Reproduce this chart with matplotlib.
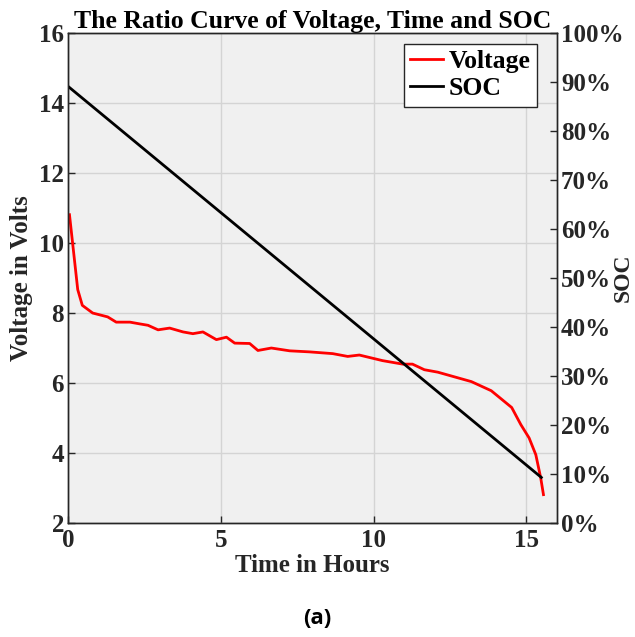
import matplotlib
matplotlib.use("Agg")
import matplotlib.pyplot as plt
import numpy as np
from matplotlib.ticker import FuncFormatter

# Voltage data (hours, volts)
time_v = [0.04, 0.31, 0.46, 0.8, 1.29, 1.57, 2.02, 2.34, 2.61, 2.94, 3.32, 3.76, 4.08,
          4.41, 4.85, 5.18, 5.45, 5.94, 6.21, 6.65, 7.25, 7.9, 8.66, 9.15, 9.53, 10.29,
          10.95, 11.27, 11.66, 12.1, 13.2, 13.85, 14.52, 14.82, 15.09, 15.31, 15.47, 15.56]
voltage = [10.81, 8.67, 8.22, 8.0, 7.89, 7.74, 7.74, 7.69, 7.65, 7.52, 7.57, 7.46, 7.41,
           7.46, 7.24, 7.31, 7.14, 7.13, 6.93, 7.0, 6.92, 6.89, 6.84, 6.76, 6.80, 6.64,
           6.54, 6.54, 6.38, 6.31, 6.04, 5.78, 5.30, 4.81, 4.43, 3.95, 3.29, 2.81]

# SOC data (hours, fraction)
time_soc = [0.0, 15.49]
soc = [0.891, 0.093]

x_ticks = [0, 5, 10, 15]
v_ticks = [2, 4, 6, 8, 10, 12, 14, 16]
soc_ticks = [i / 10 for i in range(11)]

font = "Liberation Serif"
axcol = "#262626"
fs = 18

fig = plt.figure(figsize=(6.35, 6.37), dpi=100)
ax = fig.add_axes([0.1075, 0.179, 0.7695, 0.769])
ax.set_facecolor("#f0f0f0")
ax2 = ax.twinx()

l1, = ax.plot(time_v, voltage, color="red", lw=2)
l2, = ax2.plot(time_soc, soc, color="black", lw=2)

ax.set_xlim(0, 16)
ax.set_ylim(2, 16)
ax2.set_ylim(0, 1)
ax.set_xticks(x_ticks)
ax.set_yticks(v_ticks)
ax2.set_yticks(soc_ticks)
ax2.yaxis.set_major_formatter(FuncFormatter(lambda v, p: f"{int(round(v*100))}%"))

ax.grid(True, color="#d4d4d4", lw=1)
ax.set_axisbelow(True)

for a in (ax, ax2):
    a.tick_params(direction="in", length=5, width=1, colors=axcol, labelsize=fs, pad=3)
    for lab in a.get_xticklabels() + a.get_yticklabels():
        lab.set_fontfamily(font)
        lab.set_fontweight("bold")
    for s in a.spines.values():
        s.set_color(axcol)
        s.set_linewidth(1)
ax.tick_params(axis="x", pad=4)

ax.set_xlabel("Time in Hours", fontfamily=font, fontweight="bold", fontsize=fs,
              color=axcol, labelpad=2)
ax.set_ylabel("Voltage in Volts", fontfamily=font, fontweight="bold", fontsize=fs,
              color=axcol, labelpad=4)
ax2.set_ylabel("SOC", fontfamily=font, fontweight="bold", fontsize=17, color=axcol,
               labelpad=-8)
ax.set_title("The Ratio Curve of Voltage, Time and SOC", fontfamily=font,
             fontweight="bold", fontsize=18.5, color="black", pad=2)

leg = ax2.legend([l1, l2], ["Voltage", "SOC"], loc="upper right",
                 bbox_to_anchor=(0.959, 0.978), borderaxespad=0,
                 prop={"family": font, "weight": "bold", "size": 18.5},
                 fancybox=False, framealpha=1, edgecolor=axcol, handlelength=1.3,
                 handletextpad=0.2, borderpad=0.25, labelspacing=0.15)
leg.get_frame().set_linewidth(1)

fig.text(0.5, 0.029, "(a)", fontfamily="Open Sans", fontweight="bold", fontsize=16,
         ha="center", va="center")

fig.savefig("out.png", dpi=100, facecolor="white")
